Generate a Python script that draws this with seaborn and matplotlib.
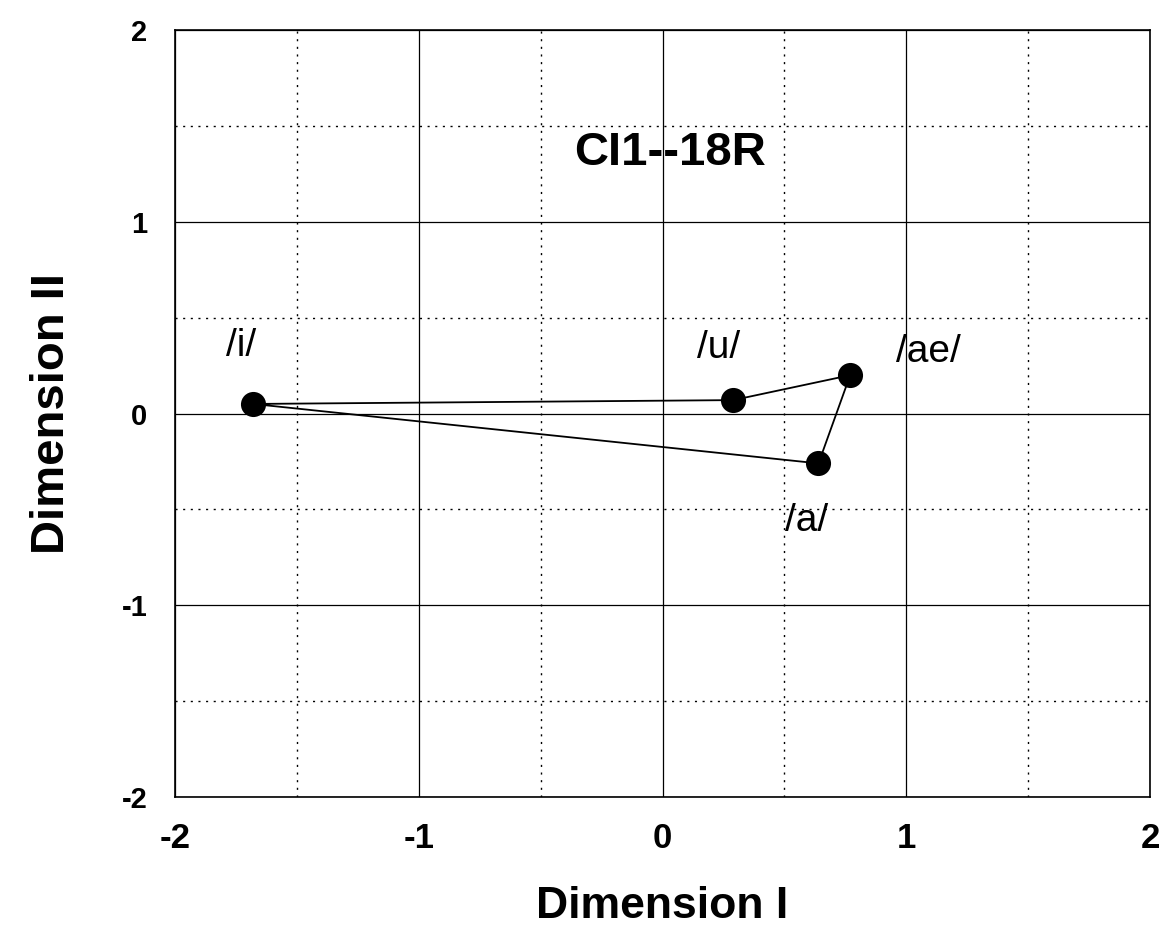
import matplotlib
matplotlib.use("Agg")
import matplotlib.pyplot as plt
import seaborn as sns
import pandas as pd

# Data
vowels = ["/i/", "/u/", "/ae/", "/a/"]
dim1 = [-1.68, 0.29, 0.77, 0.64]
dim2 = [0.05, 0.07, 0.20, -0.26]
label_x = [-1.73, 0.23, 1.09, 0.59]
label_y = [0.35, 0.34, 0.32, -0.56]
title_text = "CI1--18R"
ticks = [-2, -1, 0, 1, 2]
minor_ticks = [-1.5, -0.5, 0.5, 1.5]

sns.set_theme(style="white")
plt.rcParams['font.family'] = ['Liberation Sans', 'DejaVu Sans']
plt.rcParams['text.color'] = 'black'
plt.rcParams['axes.labelcolor'] = 'black'
plt.rcParams['xtick.color'] = 'black'
plt.rcParams['ytick.color'] = 'black'

df = pd.DataFrame({"vowel": vowels, "d1": dim1, "d2": dim2})
poly = pd.concat([df, df.iloc[[0]]], ignore_index=True)

fig = plt.figure(figsize=(11.63, 9.27), dpi=100)
ax = fig.add_axes([0.1505, 0.1402, 0.8383, 0.8274])

# grid
for t in ticks:
    ax.axvline(t, color="black", lw=0.9, zorder=0)
    ax.axhline(t, color="black", lw=0.9, zorder=0)
for t in minor_ticks:
    ax.axvline(t, color="black", lw=1.0, ls=(0, (1.5, 4)), zorder=0)
    ax.axhline(t, color="black", lw=1.0, ls=(0, (1.5, 4)), zorder=0)

sns.lineplot(data=poly, x="d1", y="d2", sort=False, color="black", lw=1.3,
             estimator=None, ax=ax, zorder=2)
sns.scatterplot(data=df, x="d1", y="d2", color="black", s=280, edgecolor="black",
                ax=ax, zorder=3, legend=False)

for v, lx, ly in zip(vowels, label_x, label_y):
    ax.text(lx, ly, v, fontsize=28, ha="center", va="center", color="black")

ax.text(0.03, 1.36, title_text, fontsize=34, fontweight="bold", ha="center",
        va="center", color="black")

ax.set_xlim(-2, 2)
ax.set_ylim(-2, 2)
ax.set_xticks(ticks)
ax.set_yticks(ticks)
ax.set_xticklabels([str(t) for t in ticks], fontsize=25, fontweight="bold")
ax.set_yticklabels([str(t) for t in ticks], fontsize=21, fontweight="bold")
ax.tick_params(axis="x", length=0, pad=18)
ax.tick_params(axis="y", length=0, pad=20)
ax.set_xlabel("Dimension I", fontsize=32, fontweight="bold", labelpad=22)
ax.set_ylabel("Dimension II", fontsize=34, fontweight="bold", labelpad=34)
for s in ax.spines.values():
    s.set_color("black")
    s.set_linewidth(1.2)

fig.savefig("out.png", dpi=100, facecolor="white")
